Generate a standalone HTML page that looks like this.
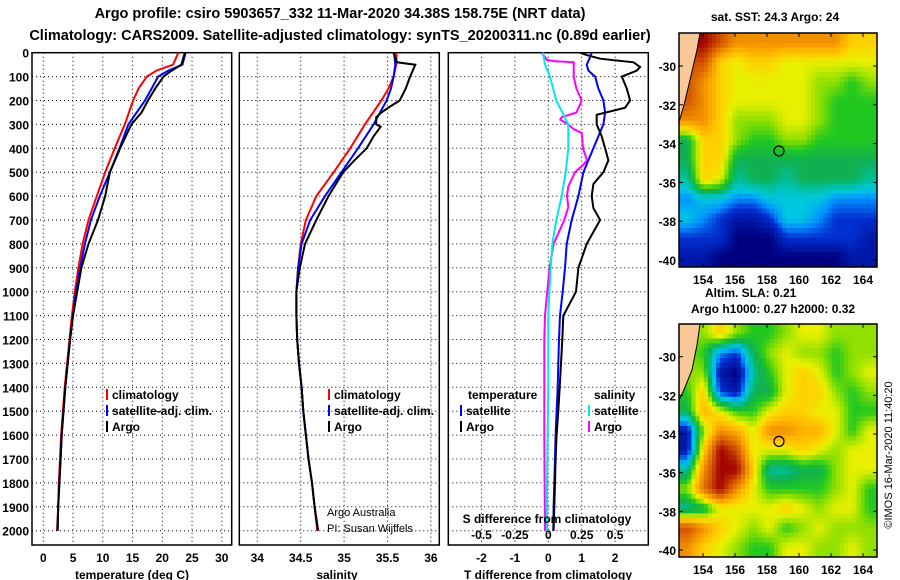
<!DOCTYPE html>
<html><head><meta charset="utf-8"><style>
body{margin:0;background:#fff}
svg{display:block;font-family:"Liberation Sans",sans-serif;font-weight:bold}
</style></head><body>
<svg id="c" width="900" height="580" viewBox="0 0 900 580" xmlns="http://www.w3.org/2000/svg">
<text x="340" y="18" font-size="14.5" text-anchor="middle">Argo profile: csiro 5903657_332 11-Mar-2020 34.38S 158.75E (NRT data)</text>
<text x="340" y="40" font-size="14.5" text-anchor="middle">Climatology: CARS2009. Satellite-adjusted climatology: synTS_20200311.nc (0.89d earlier)</text>
<g id="g"></g>
</svg>
<script>
// ---------- data ----------
const depthTicks=[0,100,200,300,400,500,600,700,800,900,1000,1100,1200,1300,1400,1500,1600,1700,1800,1900,2000];
const tTicks=[0,5,10,15,20,25,30];
const sTicks=[34,34.5,35,35.5,36];
const dTTicks=[-2,-1,0,1,2];
const dSTicks=[-0.5,-0.25,0,0.25,0.5];
const dSTickLabels=["-0.5","-0.25","0","0.25","0.5"];

const zT=[0,50,75,100,150,200,300,400,500,600,700,800,900,1000,1100,1200,1300,1400,1500,1600,1700,1800,1900,2000];
const tClim=[22.7,21.8,19.0,17.4,16.0,15.1,13.7,12.0,10.4,9.0,7.6,6.6,5.9,5.3,4.8,4.4,4.0,3.6,3.3,3.0,2.8,2.6,2.5,2.3];
const tSat=[23.9,23.4,21.0,19.3,18.2,17.1,14.3,12.8,11.2,9.5,8.0,7.0,6.2,5.5,5.0,4.5,4.1,3.7,3.4,3.1,2.9,2.7,2.5,2.4];
const zTA=[0,50,75,100,150,200,250,300,400,500,600,700,800,900,1000,1100,1200,1300,1400,1500,1600,1700,1800,1900,2000];
const tArgo=[23.8,23.2,21.6,20.2,18.8,17.6,16.5,14.8,12.9,11.2,10.4,9.2,7.6,6.4,5.7,5.0,4.5,4.1,3.7,3.4,3.1,2.9,2.7,2.5,2.4];

const zS=[0,50,100,150,200,300,400,500,600,700,800,900,1000,1100,1200,1300,1400,1500,1600,1700,1800,1900,2000];
const sClim=[35.605,35.6,35.57,35.51,35.43,35.24,35.07,34.88,34.68,34.56,34.50,34.47,34.45,34.45,34.46,34.48,34.51,34.53,34.56,34.59,34.63,34.66,34.69];
const sSat=[35.575,35.59,35.57,35.54,35.49,35.34,35.16,34.97,34.78,34.61,34.51,34.47,34.45,34.45,34.46,34.48,34.51,34.53,34.56,34.59,34.63,34.66,34.70];
const zSA=[0,40,50,100,150,200,225,250,270,300,310,350,400,450,500,600,700,800,900,1000,1100,1200,1300,1400,1500,1600,1700,1800,1900,2000];
const sArgo=[35.57,35.61,35.82,35.76,35.71,35.64,35.53,35.43,35.37,35.37,35.42,35.34,35.26,35.12,34.99,34.82,34.68,34.55,34.49,34.45,34.45,34.46,34.48,34.51,34.53,34.56,34.59,34.63,34.66,34.70];

const zD=[0,25,50,75,100,150,200,250,300,350,400,500,600,700,800,900,1000,1100,1200,1300,1400,1500,1600,1700,1800,1900,2000];
const dTSat=[1.3,1.23,1.15,1.2,1.4,1.5,1.65,1.7,1.65,1.5,1.35,1.05,0.9,0.7,0.55,0.5,0.43,0.35,0.32,0.3,0.28,0.25,0.22,0.2,0.18,0.16,0.15];
const zDA=[0,10,25,40,60,75,100,150,200,230,260,300,350,400,450,500,550,600,650,700,800,900,1000,1100,1200,1300,1400,1500,1600,1700,1800,1900,2000];
const dTArgo=[0.95,1.15,1.55,2.55,2.75,2.65,2.2,2.35,2.45,2.3,1.45,1.45,1.6,1.7,1.8,1.65,1.35,1.3,1.35,1.55,1.15,0.9,0.83,0.45,0.42,0.38,0.34,0.3,0.25,0.22,0.2,0.18,0.16];
const zDS=[0,50,100,200,300,400,500,600,700,800,900,1000,1100,1200,1400,1600,1800,2000];
const dSSat=[-0.04,-0.025,0.013,0.06,0.15,0.15,0.13,0.1,0.06,0.03,0.018,0.008,0,0,0,-0.005,-0.01,-0.01];
const zDSA=[0,30,35,40,100,150,200,250,270,280,300,320,335,400,450,470,500,560,600,645,700,800,900,1000,1100,1200,1400,1600,1800,2000];
const dSArgo=[-0.05,-0.01,0.04,0.19,0.19,0.21,0.25,0.21,0.1,0.09,0.15,0.19,0.25,0.26,0.29,0.26,0.2,0.15,0.14,0.15,0.12,0.04,0.01,-0.008,-0.025,-0.03,-0.03,-0.03,-0.028,-0.025];

// map grids (colour index 0 navy .. 8 dark red), rows north->south
const sstGrid=[
[8,8,7,6,6,6,6,6,6,6,5,5],
[7,7,5,4.5,5,5,4.5,4.5,4.5,4.5,4.5,4.5],
[7,6,5,4.5,4.5,4.5,4.5,4.5,4,4,3.5,4],
[7,6,5,4.5,4.5,4.5,4.5,4.5,4,3.5,3.5,3.5],
[6,6,5,4,4,4,4.5,4.5,4,3.5,3.5,3.5],
[3,5,5,4,3.5,3.5,4,4,3.5,3.5,3.5,3.5],
[3,5,5,3,3,3,3,3,3,3,3,3],
[2.5,5,4.5,2.5,3,3,2.5,3,3,3,3,2.5],
[1.5,2,2,1.5,1.5,2,2,2,2,1.5,1.5,1.5],
[2,1.5,1,0.5,0.5,1,2,2,1.5,1,1,1],
[1,1,1,0,0,0,1,1,1,1,1,0.5],
[0.5,0.5,0,0,0,0,0,0,0,0,0.5,0.5]];
const slaGrid=[
[4,4,5,4,3.5,3.5,4,4.5,4.5,4,4,4],
[4,3.5,1.5,1,3,4,4.5,4,4,3.5,4,4],
[4,4,0.5,0,2.5,3.5,4.5,5,4.5,3.5,4,4.5],
[3.5,5,1,0.5,3,3,4.5,5,5,4,3.5,4],
[3,5.5,4.5,3.5,3.5,4.5,5,5,4.5,4.5,3.5,3.5],
[0.5,4,6,5.5,4.5,6,6,5.5,5.5,4.5,3.5,4.5],
[0.5,5,8,7,4.5,4.5,4.5,5,4.5,4,4.5,4.5],
[2.5,6,8,8,5,2.5,2.5,3,3,4,4.5,4.5],
[4,6.5,8,6,4.5,3.5,3.5,3.5,3.5,4,4.5,3.5],
[2.5,3,4.5,4.5,4.5,4.5,5,4.5,4,4.5,4.5,3.5],
[7,6,5,4.5,4,4.5,3.5,4,4.5,4,4,4],
[6,5,4.5,4,3.5,3.5,4.5,4.5,4,4,4.5,4]];
const lonTicks=[154,156,158,160,162,164];
const latTicks=[-30,-32,-34,-36,-38,-40];
const argoLon=158.75, argoLat=-34.38;

// ---------- helpers ----------
const NS="http://www.w3.org/2000/svg";
const G=document.getElementById('g');
function mk(tag,attrs,parent){const e=document.createElementNS(NS,tag);for(const k in attrs)e.setAttribute(k,attrs[k]);(parent||G).appendChild(e);return e;}
function txt(x,y,s,size,anchor,parent){const e=mk('text',{x:x,y:y,'font-size':size,'text-anchor':anchor||'middle'},parent);e.textContent=s;return e;}
const yD=d=>52.7+d*0.239;
const BOT=545, TOP=52.7;

function panel(name,x0,x1,xs,vticks){
  const g=mk('g',{});
  
  
  vticks.forEach(v=>{const l=mk('line',{x1:xs(v),x2:xs(v),y1:TOP,y2:BOT,stroke:'#000','stroke-dasharray':'1,3'},g);
    
    });
  depthTicks.forEach(d=>{if(d==0)return;const l=mk('line',{x1:x0,x2:x1,y1:yD(d),y2:yD(d),stroke:'#000','stroke-dasharray':'1,3'},g);
    
    });
  const r=mk('rect',{x:x0,y:TOP,width:x1-x0,height:BOT-TOP,fill:'none',stroke:'#000','stroke-width':1.5},g);
  
  
  return g;
}
function series(g,name,zs,vs,xs,color,w){
  const pts=zs.map((z,i)=>xs(vs[i]).toFixed(1)+','+yD(z).toFixed(1)).join(' ');
  const p=mk('polyline',{points:pts,fill:'none',stroke:color,'stroke-width':w||2},g);
  
  
}
function legendItem(g,x,y,color,label){
  const b=mk('rect',{x:x,y:y-10,width:2,height:11,fill:color},g);
  
  
  const t=txt(x+6,y,label,12,'start',g);
  
  
}

// ---------- panel 1: temperature ----------
const xT=v=>43.3+v*5.95;
const p1=panel('temperature-panel',32,231.7,xT,tTicks);
depthTicks.forEach(d=>{const t=txt(29,yD(d)+5,String(d),12,'end',p1);
  
  });
tTicks.forEach(v=>{const t=txt(xT(v),562,String(v),12,'middle',p1);
  
  });
const t1=txt(132,579,'temperature (deg C)',12,'middle',p1);


series(p1,'climatology-temp-line',zT,tClim,xT,'#ff0000');
series(p1,'satellite-temp-line',zT,tSat,xT,'#0000ff');
series(p1,'argo-temp-line',zTA,tArgo,xT,'#000000');
legendItem(p1,106,399,'#ff0000','climatology');
legendItem(p1,106,415,'#0000ff','satellite-adj. clim.');
legendItem(p1,106,431,'#000000','Argo');

// ---------- panel 2: salinity ----------
const xS=v=>257.3+(v-34)*86.8;
const p2=panel('salinity-panel',239.3,439.3,xS,sTicks);
sTicks.forEach(v=>{const t=txt(xS(v),562,String(v),12,'middle',p2);
  
  });
const t2=txt(337,579,'salinity',12,'middle',p2);


series(p2,'climatology-sal-line',zS,sClim,xS,'#ff0000');
series(p2,'satellite-sal-line',zS,sSat,xS,'#0000ff');
series(p2,'argo-sal-line',zSA,sArgo,xS,'#000000');
legendItem(p2,328,399,'#ff0000','climatology');
legendItem(p2,328,415,'#0000ff','satellite-adj. clim.');
legendItem(p2,328,431,'#000000','Argo');
const c1=mk('text',{x:327,y:516,'font-size':11,'font-weight':'normal'},p2);c1.textContent='Argo Australia';


const c2=mk('text',{x:327,y:532,'font-size':11,'font-weight':'normal'},p2);c2.textContent='PI: Susan Wijffels';



// ---------- panel 3: differences ----------
const xDT=v=>548.3+v*33.4;
const xDS=v=>548.3+v*133.6;
const p3=panel('difference-panel',448.3,648.3,xDT,dTTicks);
dTTicks.forEach(v=>{const t=txt(xDT(v),562,String(v),12,'middle',p3);
  
  });
const t3=txt(548,579,'T difference from climatology',12,'middle',p3);


series(p3,'argo-sal-diff-line',zDSA,dSArgo,xDS,'#ff00ff');
series(p3,'satellite-sal-diff-line',zDS,dSSat,xDS,'#00e8e8');
series(p3,'satellite-temp-diff-line',zD,dTSat,xDT,'#0000ff');
series(p3,'argo-temp-diff-line',zDA,dTArgo,xDT,'#000000');
const lt=txt(468,399,'temperature',12,'start',p3);


legendItem(p3,460,415,'#0000ff','satellite');
legendItem(p3,460,431,'#000000','Argo');
const ls=txt(594,399,'salinity',12,'start',p3);


legendItem(p3,588,415,'#00e8e8','satellite');
legendItem(p3,588,431,'#ff00ff','Argo');
const sd=txt(547,523,'S difference from climatology',12,'middle',p3);


dSTicks.forEach((v,i)=>{const t=txt(xDS(v),539,dSTickLabels[i],12,'middle',p3);
  
  });

// ---------- maps ----------
const stops=[[0,[0,0,128]],[1,[0,48,208]],[1.5,[0,144,255]],[2,[0,200,224]],[2.5,[0,192,160]],[3,[16,176,80]],[3.5,[32,200,32]],[4,[144,224,0]],[4.5,[232,240,0]],[5,[255,208,0]],[5.5,[255,176,0]],[6,[240,144,0]],[7,[208,80,0]],[8,[160,0,0]]];
function col(v){for(let i=1;i<stops.length;i++){if(v<=stops[i][0]){const a=stops[i-1],b=stops[i],f=(v-a[0])/(b[0]-a[0]);return 'rgb('+a[1].map((c,k)=>Math.round(c+(b[1][k]-c)*f)).join(',')+')';}}return 'rgb(160,0,0)';}
function sample(grid,r,c){
  const nr=grid.length,nc=grid[0].length;
  r=Math.max(0,Math.min(nr-1,r));c=Math.max(0,Math.min(nc-1,c));
  const r0=Math.floor(r),c0=Math.floor(c),r1=Math.min(nr-1,r0+1),c1=Math.min(nc-1,c0+1),fr=r-r0,fc=c-c0;
  return (grid[r0][c0]*(1-fc)+grid[r0][c1]*fc)*(1-fr)+(grid[r1][c0]*(1-fc)+grid[r1][c1]*fc)*fr;
}
function drawMap(name,grid,x0,x1,y0,y1,latY0,latY1,coast,sub){
  const g=mk('g',{});
  
  
  const nr=grid.length*sub,nc=grid[0].length*sub,cw=(x1-x0)/nc,ch=(y1-y0)/nr;
  for(let r=0;r<nr;r++)for(let c=0;c<nc;c++){
    const v=sample(grid,(r+0.5)/sub-0.5,(c+0.5)/sub-0.5);
    const cell=mk('rect',{x:(x0+c*cw).toFixed(2),y:(y0+r*ch).toFixed(2),width:(cw+0.5).toFixed(2),height:(ch+0.5).toFixed(2),fill:col(v)},g);
    
    
  }
  const land=mk('polygon',{points:coast,fill:'#f8c898',stroke:'#000','stroke-width':1},g);
  
  
  const lonX=l=>703+(l-154)*16;
  const latY=l=>latY0+(l+30)*(latY1-latY0)/(-10);
  lonTicks.forEach(l=>{mk('line',{x1:lonX(l),x2:lonX(l),y1:y0,y2:y0+4,stroke:'#000'},g);mk('line',{x1:lonX(l),x2:lonX(l),y1:y1,y2:y1-4,stroke:'#000'},g);
    const t=txt(lonX(l),y1+17,String(l),12,'middle',g);
    
    });
  latTicks.forEach(l=>{mk('line',{x1:x0,x2:x0+4,y1:latY(l),y2:latY(l),stroke:'#000'},g);mk('line',{x1:x1,x2:x1-4,y1:latY(l),y2:latY(l),stroke:'#000'},g);
    const t=txt(x0-3,latY(l)+5,String(l),12,'end',g);
    
    });
  const fr=mk('rect',{x:x0,y:y0,width:x1-x0,height:y1-y0,fill:'none',stroke:'#000','stroke-width':1.5},g);
  
  
  const m=mk('circle',{cx:lonX(argoLon),cy:latY(argoLat),r:5,fill:'none',stroke:'#000','stroke-width':1.2},g);
  
  
}
drawMap('sst-map',sstGrid,679,877,33,267,66,260,'679,33 700,33 697,50 690,80 684,105 679,122',4);
drawMap('sla-map',slaGrid,679,877,324,557,356.7,550,'679,324 700,324 697,345 692,370 683,392 679,400',4);
const mt=txt(775,21,'sat. SST: 24.3 Argo: 24',12,'middle');


const a1=txt(705,297,'Altim. SLA: 0.21',12,'start');


const a2=txt(691,313,'Argo h1000: 0.27 h2000: 0.32',12,'start');


const im=mk('text',{x:0,y:0,'font-size':11,'font-weight':'normal','text-anchor':'middle',transform:'translate(892,455) rotate(-90)'});
im.textContent='©IMOS 16-Mar-2020 11:40:20';


</script>
</body></html>
